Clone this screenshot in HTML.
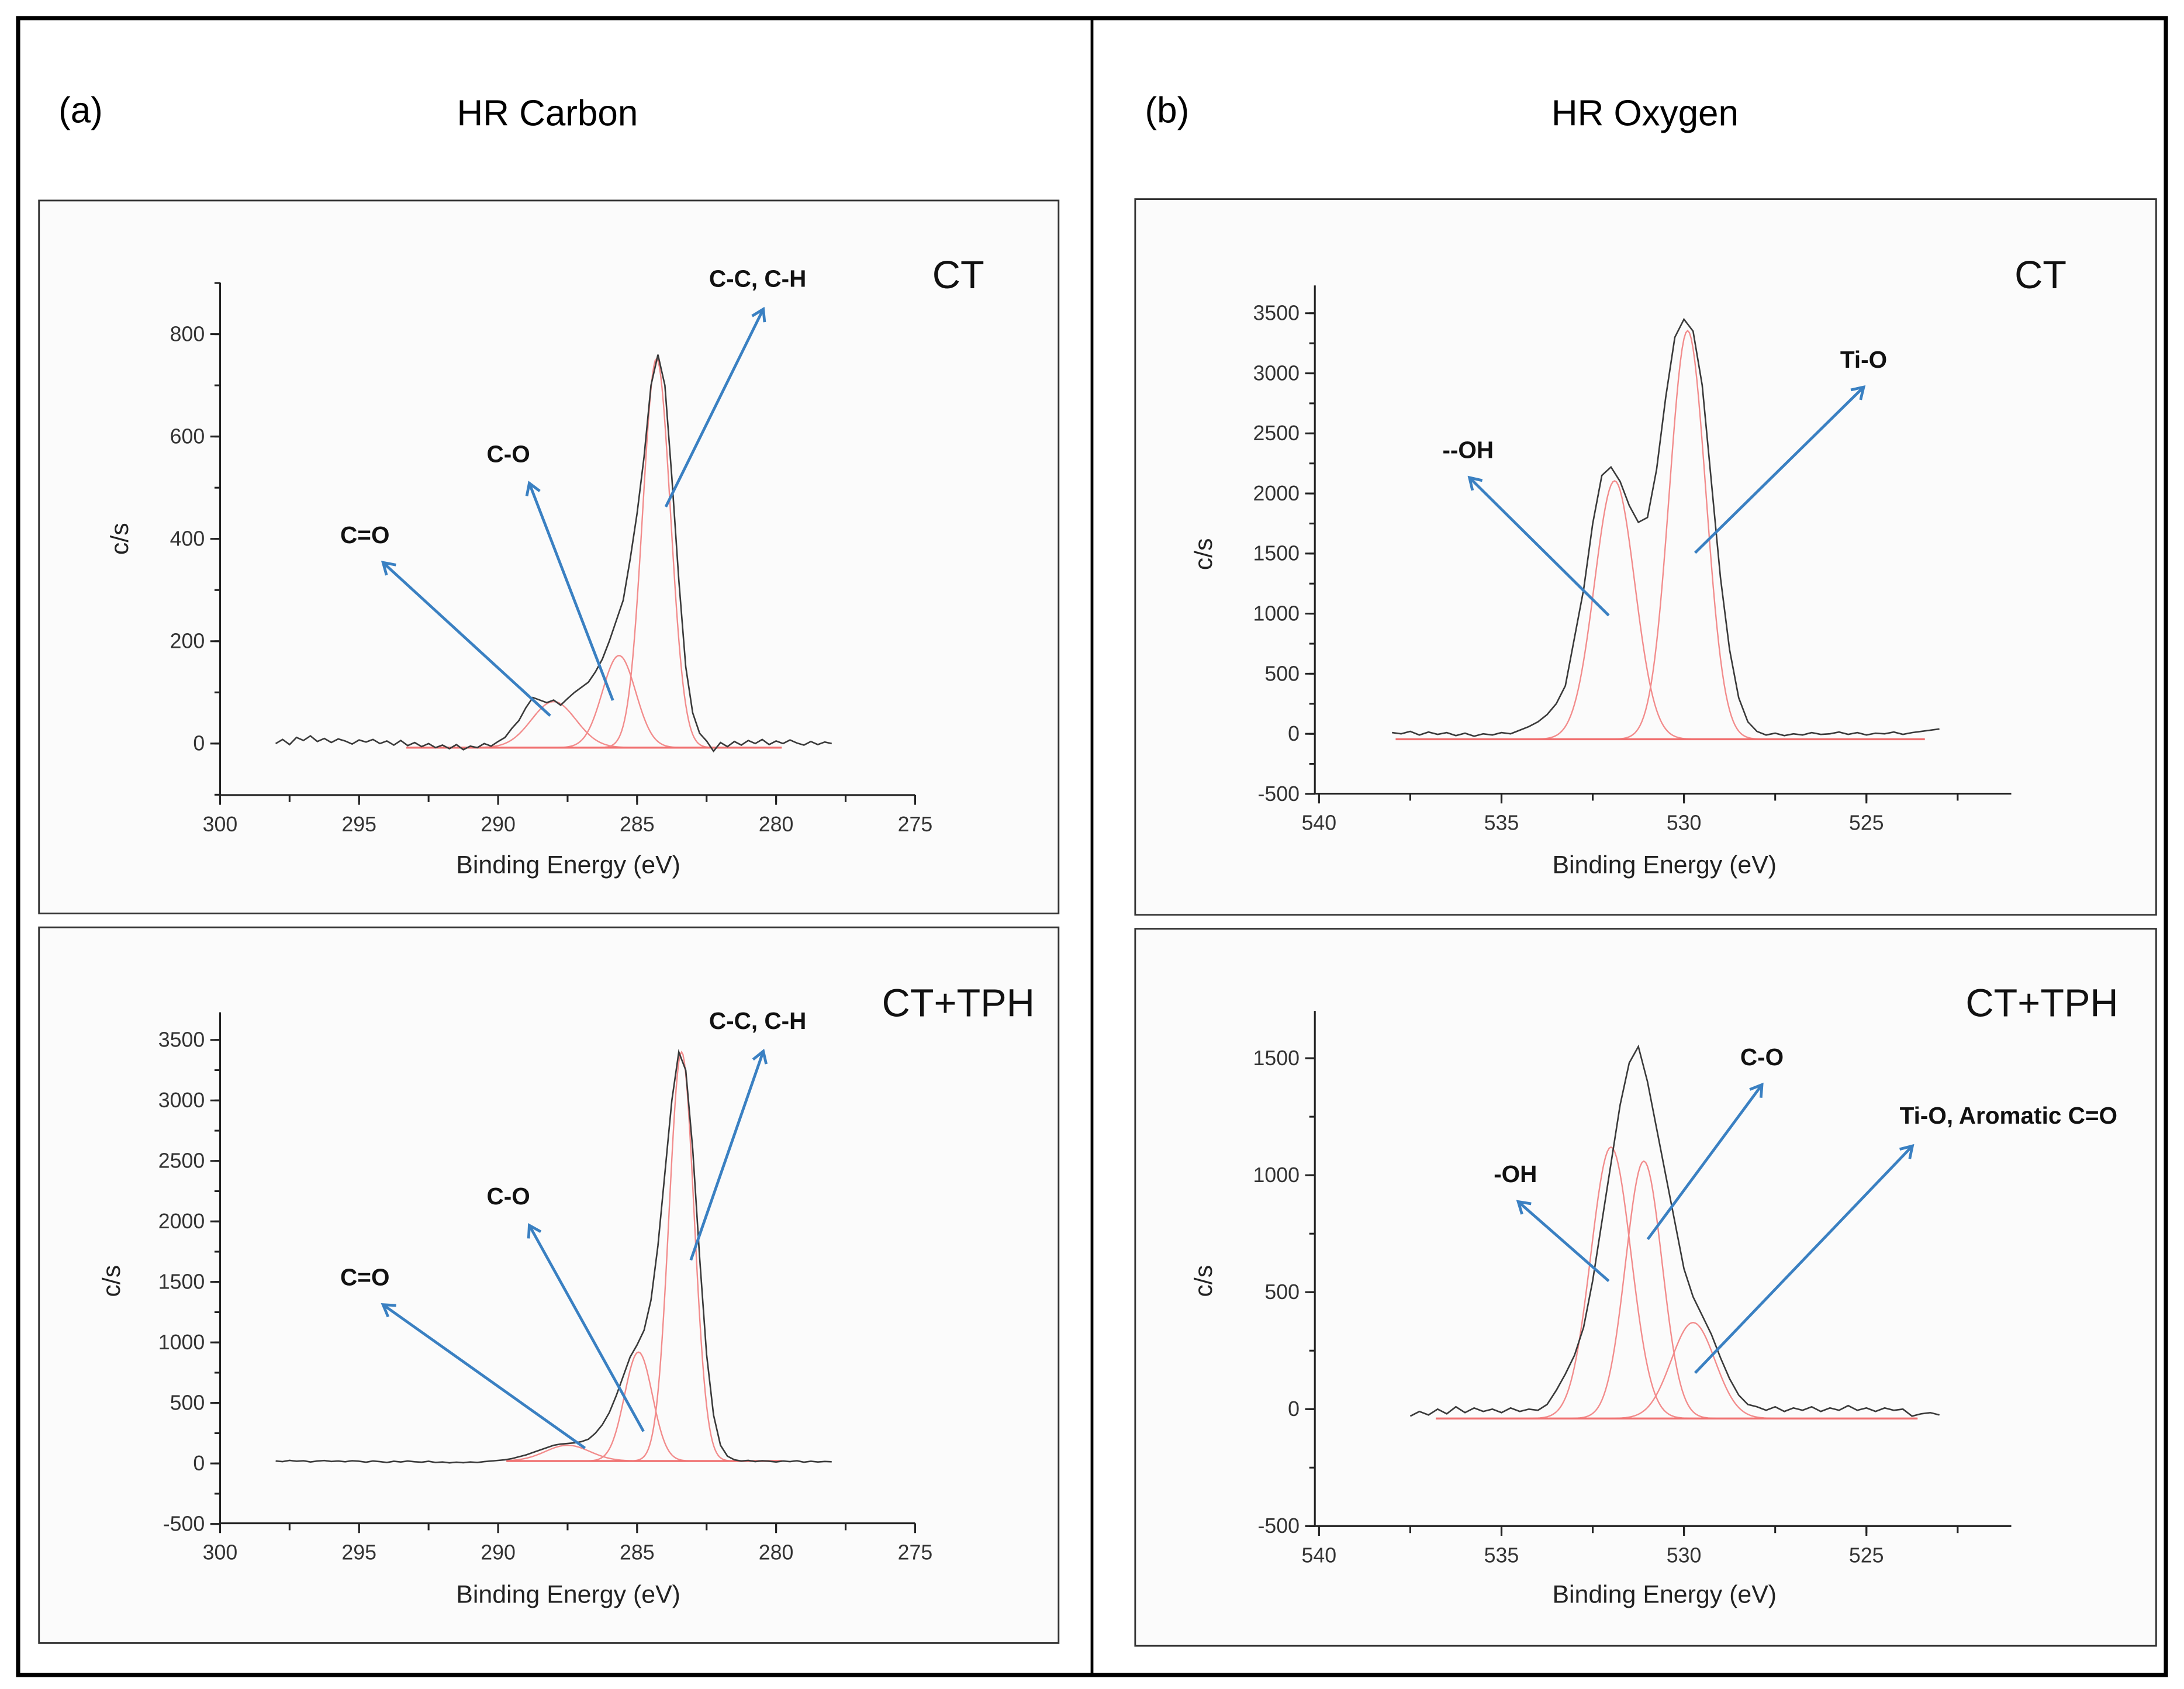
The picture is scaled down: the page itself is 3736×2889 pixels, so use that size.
<!DOCTYPE html>
<html><head><meta charset="utf-8">
<style>
html,body{margin:0;padding:0;background:#fff;}
svg{display:block;}
text{font-family:"Liberation Sans",sans-serif;}
</style></head>
<body>
<svg id="fig" width="3736" height="2889" viewBox="0 0 1568 1213" preserveAspectRatio="none" xmlns="http://www.w3.org/2000/svg">
<defs>
<marker id="ah" markerWidth="12" markerHeight="12" refX="9" refY="6" orient="auto" markerUnits="userSpaceOnUse">
<path d="M1,1 L9,6 L1,11" fill="none" stroke="#3a80c2" stroke-width="2"/>
</marker>
</defs>
<rect x="0" y="0" width="1568" height="1213" fill="#fff"/>
<rect x="13" y="13" width="1542" height="1190" fill="none" stroke="#000" stroke-width="3"/>
<line x1="784" y1="13" x2="784" y2="1203" stroke="#000" stroke-width="2"/>
<text x="42" y="88" font-size="26">(a)</text>
<text x="393" y="90" font-size="26" text-anchor="middle">HR Carbon</text>
<text x="822" y="88" font-size="26">(b)</text>
<text x="1181" y="90" font-size="26" text-anchor="middle">HR Oxygen</text>
<g id="panels"></g>
</svg>
<script>
// ---------- Panel (a) CT carbon ----------
const cCT_x0 = 298, cCT_step = 0.25;
const cCT_counts = [0,8,-2,12,6,15,4,10,2,9,5,-1,7,3,8,0,5,-3,6,-4,2,-6,0,-8,-3,-10,-2,-12,-5,-8,0,-5,4,12,30,45,70,90,85,80,85,75,88,100,110,120,140,165,200,240,280,360,450,560,700,760,700,520,320,150,60,20,5,-15,2,-6,4,-3,6,0,8,-2,5,0,7,1,-3,4,-2,3,0];
const cCT_peakCenters = [284.3, 285.65, 288.0];
const cCT_peakHeights = [760, 180, 90];
const cCT_peakSigmas = [0.5, 0.6, 0.8];
const cCT_baseline = -8;
const cCT_fitRange = [293.3, 279.8];
const cCT_yTicks = [0, 200, 400, 600, 800];
const cCT_xTicks = [300, 295, 290, 285, 280, 275];

// ---------- Panel (a) CT+TPH carbon ----------
const cTPH_x0 = 298, cTPH_step = 0.25;
const cTPH_counts = [20,15,25,18,22,12,20,24,16,20,14,22,18,10,20,15,8,18,12,20,14,10,18,8,12,5,10,6,12,8,15,20,25,30,40,55,70,90,110,130,150,160,165,170,180,200,250,320,420,560,720,880,980,1100,1350,1800,2400,3000,3400,3250,2600,1700,900,400,150,60,30,20,25,15,22,18,12,20,15,22,10,18,12,16,14];
const cTPH_peakCenters = [283.4, 284.95, 287.5];
const cTPH_peakHeights = [3380, 900, 130];
const cTPH_peakSigmas = [0.45, 0.5, 0.8];
const cTPH_baseline = 20;
const cTPH_fitRange = [289.7, 279.8];
const cTPH_yTicks = [-500, 0, 500, 1000, 1500, 2000, 2500, 3000, 3500];
const cTPH_xTicks = [300, 295, 290, 285, 280, 275];

// ---------- Panel (b) CT oxygen ----------
const oCT_x0 = 538, oCT_step = 0.25;
const oCT_counts = [10,0,20,-10,15,-5,10,-15,5,-20,0,-10,10,0,30,60,100,160,250,400,800,1200,1750,2150,2220,2100,1900,1760,1800,2200,2800,3300,3450,3350,2900,2100,1300,700,300,100,20,-10,5,-15,0,-10,10,-5,0,15,-5,10,-10,5,0,15,-5,10,20,30,40];
const oCT_peakCenters = [531.9, 529.9];
const oCT_peakHeights = [2150, 3400];
const oCT_peakSigmas = [0.55, 0.5];
const oCT_baseline = -45;
const oCT_fitRange = [537.9, 523.4];
const oCT_yTicks = [-500, 0, 500, 1000, 1500, 2000, 2500, 3000, 3500];
const oCT_xTicks = [540, 535, 530, 525];

// ---------- Panel (b) CT+TPH oxygen ----------
const oTPH_x0 = 537.5, oTPH_step = 0.25;
const oTPH_counts = [-30,-10,-25,0,-20,10,-15,5,-10,0,-15,5,-10,0,-5,20,80,150,230,350,550,800,1050,1300,1480,1550,1400,1200,1000,800,600,480,400,320,220,130,60,20,10,-5,10,-10,5,-5,10,-10,5,-5,15,-5,5,-10,5,-5,0,-30,-20,-15,-25];
const oTPH_peakCenters = [532.0, 531.1, 529.75];
const oTPH_peakHeights = [1160, 1100, 410];
const oTPH_peakSigmas = [0.55, 0.5, 0.6];
const oTPH_baseline = -40;
const oTPH_fitRange = [536.8, 523.6];
const oTPH_yTicks = [-500, 0, 500, 1000, 1500];
const oTPH_xTicks = [540, 535, 530, 525];

const NS = "http://www.w3.org/2000/svg";
const root = document.getElementById('panels');
function mk(tag, attrs, parent){
  const e = document.createElementNS(NS, tag);
  for (const k in attrs) e.setAttribute(k, attrs[k]);
  (parent||root).appendChild(e);
  return e;
}

function panel(cfg){
  const g = mk('g', {});
  
  
  const box = mk('rect', {x:cfg.box[0], y:cfg.box[1], width:cfg.box[2], height:cfg.box[3], fill:'#fbfbfb', stroke:'#333', 'stroke-width':1.2}, g);
  
  
  const X = v => cfg.px0 + (cfg.xv0 - v) * cfg.pxPerX;
  const Y = v => cfg.py0 - v * cfg.pxPerY;
  const ax = mk('g', {stroke:'#222', 'stroke-width':1.3, fill:'none'}, g);
  
  
  mk('line', {x1:cfg.axX, y1:cfg.axTop, x2:cfg.axX, y2:cfg.axBottom}, ax);
  mk('line', {x1:cfg.axX, y1:cfg.axBottom, x2:cfg.axRight, y2:cfg.axBottom}, ax);
  cfg.yTicks.forEach(t => {
    mk('line', {x1:cfg.axX-7, y1:Y(t), x2:cfg.axX, y2:Y(t)}, ax);
    const tl = mk('text', {x:cfg.axX-11, y:Y(t)+5, 'font-size':15, 'text-anchor':'end', fill:'#333', stroke:'none'}, g);
    tl.textContent = t;
    
    
  });
  for (let v = cfg.yMinorStart; Y(v) > cfg.axTop; v += cfg.yMinor) {
    if (Y(v) <= cfg.axBottom) mk('line', {x1:cfg.axX-4, y1:Y(v), x2:cfg.axX, y2:Y(v)}, ax);
  }
  cfg.xTicks.forEach(t => {
    mk('line', {x1:X(t), y1:cfg.axBottom, x2:X(t), y2:cfg.axBottom+7}, ax);
    const tl = mk('text', {x:X(t), y:cfg.axBottom+26, 'font-size':15, 'text-anchor':'middle', fill:'#333', stroke:'none'}, g);
    tl.textContent = t;
    
    
  });
  for (let v = cfg.xv0 - cfg.xMinor; X(v) <= cfg.axRight + 0.5; v -= cfg.xMinor) {
    mk('line', {x1:X(v), y1:cfg.axBottom, x2:X(v), y2:cfg.axBottom+5}, ax);
  }
  const xt = mk('text', {x:cfg.xTitle[0], y:cfg.xTitle[1], 'font-size':18, 'text-anchor':'middle', fill:'#222'}, g);
  xt.textContent = cfg.xTitleText;
  
  
  const yt = mk('text', {x:0, y:0, 'font-size':18, 'text-anchor':'middle', fill:'#222', transform:`translate(${cfg.yTitle[0]},${cfg.yTitle[1]}) rotate(-90)`}, g);
  yt.textContent = 'c/s';
  
  
  cfg.centers.forEach((c, k) => {
    let d = '';
    for (let x = cfg.fit[0]; x >= cfg.fit[1] - 1e-9; x -= 0.05) {
      const v = cfg.base + cfg.heights[k] * Math.exp(-((x-c)*(x-c)) / (2*cfg.sigmas[k]*cfg.sigmas[k]));
      d += (d ? 'L' : 'M') + X(x).toFixed(2) + ',' + Y(v).toFixed(2);
    }
    const p = mk('path', {d, fill:'none', stroke:'#f28c8c', 'stroke-width':1}, g);
    
    
  });
  const bl = mk('line', {x1:X(cfg.fit[0]), y1:Y(cfg.base), x2:X(cfg.fit[1]), y2:Y(cfg.base), stroke:'#f07070', 'stroke-width':1.4}, g);
  
  
  let d = '';
  cfg.counts.forEach((v, i) => {
    const x = cfg.x0 - i * cfg.step;
    d += (i ? 'L' : 'M') + X(x).toFixed(2) + ',' + Y(v).toFixed(2);
  });
  const sp = mk('path', {d, fill:'none', stroke:'#3a3a3a', 'stroke-width':1.1}, g);
  
  
  const st = mk('text', {x:cfg.sample[0], y:cfg.sample[1], 'font-size':28, 'text-anchor':'middle', fill:'#111'}, g);
  st.textContent = cfg.sampleText;
  
  
  cfg.notes.forEach(n => {
    const a = mk('line', {x1:n.a[0], y1:n.a[1], x2:n.a[2], y2:n.a[3], stroke:'#3a80c2', 'stroke-width':2, 'marker-end':'url(#ah)'}, g);
    
    
    const t = mk('text', {x:n.t[0], y:n.t[1], 'font-size':17, 'font-weight':'bold', 'text-anchor':'middle', fill:'#111'}, g);
    t.textContent = n.text;
    
    
  });
}

panel({name:'carbon-ct-panel', box:[28,144,732,512], xv0:300, px0:158, pxPerX:19.96, py0:534, pxPerY:0.3675,
  axX:158, axTop:203, axBottom:571, axRight:657, yTicks:cCT_yTicks, yMinor:100, yMinorStart:-100, xTicks:cCT_xTicks, xMinor:2.5,
  xTitle:[408,627], xTitleText:'Binding Energy (eV)', yTitle:[92,387],
  counts:cCT_counts, x0:cCT_x0, step:cCT_step, centers:cCT_peakCenters, heights:cCT_peakHeights, sigmas:cCT_peakSigmas, base:cCT_baseline, fit:cCT_fitRange,
  sample:[688,207], sampleText:'CT',
  notes:[{text:'C-C, C-H', t:[544,206], a:[478,364,548,222]},{text:'C-O', t:[365,332], a:[440,503,380,347]},{text:'C=O', t:[262,390], a:[395,514,275,404]}]});

panel({name:'carbon-ct-tph-panel', box:[28,666,732,514], xv0:300, px0:158, pxPerX:19.96, py0:1051, pxPerY:0.0869,
  axX:158, axTop:727, axBottom:1094, axRight:657, yTicks:cTPH_yTicks, yMinor:250, yMinorStart:-500, xTicks:cTPH_xTicks, xMinor:2.5,
  xTitle:[408,1151], xTitleText:'Binding Energy (eV)', yTitle:[86,920],
  counts:cTPH_counts, x0:cTPH_x0, step:cTPH_step, centers:cTPH_peakCenters, heights:cTPH_peakHeights, sigmas:cTPH_peakSigmas, base:cTPH_baseline, fit:cTPH_fitRange,
  sample:[688,730], sampleText:'CT+TPH',
  notes:[{text:'C-C, C-H', t:[544,739], a:[496,905,548,755]},{text:'C-O', t:[365,865], a:[462,1028,380,880]},{text:'C=O', t:[262,923], a:[420,1040,275,937]}]});

panel({name:'oxygen-ct-panel', box:[815,143,733,514], xv0:540, px0:947, pxPerX:26.2, py0:527, pxPerY:0.0863,
  axX:944, axTop:205, axBottom:570, axRight:1444, yTicks:oCT_yTicks, yMinor:250, yMinorStart:-500, xTicks:oCT_xTicks, xMinor:2.5,
  xTitle:[1195,627], xTitleText:'Binding  Energy (eV)', yTitle:[870,398],
  counts:oCT_counts, x0:oCT_x0, step:oCT_step, centers:oCT_peakCenters, heights:oCT_peakHeights, sigmas:oCT_peakSigmas, base:oCT_baseline, fit:oCT_fitRange,
  sample:[1465,207], sampleText:'CT',
  notes:[{text:'Ti-O', t:[1338,264], a:[1217,397,1338,278]},{text:'--OH', t:[1054,329], a:[1155,442,1055,343]}]});

panel({name:'oxygen-ct-tph-panel', box:[815,667,733,515], xv0:540, px0:947, pxPerX:26.2, py0:1012, pxPerY:0.168,
  axX:944, axTop:726, axBottom:1096, axRight:1444, yTicks:oTPH_yTicks, yMinor:250, yMinorStart:-500, xTicks:oTPH_xTicks, xMinor:2.5,
  xTitle:[1195,1151], xTitleText:'Binding Energy (eV)', yTitle:[870,920],
  counts:oTPH_counts, x0:oTPH_x0, step:oTPH_step, centers:oTPH_peakCenters, heights:oTPH_peakHeights, sigmas:oTPH_peakSigmas, base:oTPH_baseline, fit:oTPH_fitRange,
  sample:[1466,730], sampleText:'CT+TPH',
  notes:[{text:'C-O', t:[1265,765], a:[1183,890,1265,779]},{text:'Ti-O, Aromatic C=O', t:[1442,807], a:[1217,986,1373,823]},{text:'-OH', t:[1088,849], a:[1155,920,1090,863]}]});
</script>
</body></html>
